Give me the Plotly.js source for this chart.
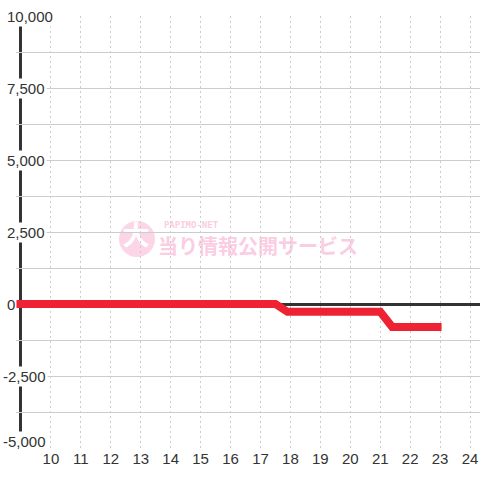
<!DOCTYPE html>
<html>
<head>
<meta charset="utf-8">
<script src="https://cdn.plot.ly/plotly-3.0.1.min.js"></script>
<style>
html,body{margin:0;padding:0;background:#fff;}
#chart{width:480px;height:480px;}
</style>
</head>
<body>
<div id="chart"></div>
<script>
// data
var timeX = [8.8, 17.5, 17.9, 21.0, 21.4, 23.05];
var balanceY = [0, 0, -270, -270, -800, -800];
var xTickVals = [10, 11, 12, 13, 14, 15, 16, 17, 18, 19, 20, 21, 22, 23, 24];
var yTickVals = [10000, 7500, 5000, 2500, 0, -2500, -5000];
var yTickLabels = ["10,000", "7,500", "5,000", "2,500", "0", "-2,500", "-5,000"];
var watermarkSmall = "PAPIMO-NET";
var watermarkBig = "当り情報公開サービス";
var watermarkIcon = "大";

var W = 480, H = 480;
var mL = 16, mR = 0, mT = 16, mB = 32;
var pw = W - mL - mR, ph = H - mT - mB;
function px(p){ return (p - mL) / pw; }
function py(p){ return (H - mB - p) / ph; }

var trace = {
  x: timeX, y: balanceY, type: 'scatter', mode: 'lines',
  line: {color: '#EE2233', width: 8, shape: 'linear'},
  hoverinfo: 'skip'
};

var labelFont = {family: 'Liberation Sans, Arial, sans-serif', size: 15, color: '#333333'};
var annotations = yTickVals.map(function(v, i){
  var a = {
    xref: 'paper', yref: 'y', x: px(v < 0 ? 1 : 5), y: v,
    xanchor: 'left', yanchor: 'middle', showarrow: false,
    text: yTickLabels[i], bgcolor: '#ffffff', borderpad: 1,
    font: labelFont
  };
  if (i === yTickVals.length - 1) { a.yref = 'paper'; a.y = py(441); }
  return a;
});

var pink = '#fbcde2';
function textShape(cx, cy, w, h, txt, font){
  return {type: 'rect', xref: 'paper', yref: 'paper',
    x0: px(cx - w/2), x1: px(cx + w/2), y0: py(cy + h/2), y1: py(cy - h/2),
    line: {width: 0}, fillcolor: 'rgba(0,0,0,0)', layer: 'below',
    label: {text: txt, font: font, textposition: 'middle center'}};
}

var shapes = [
  {type: 'line', xref: 'paper', yref: 'paper', x0: px(20.5), x1: px(20.5), y0: 0, y1: 1,
   line: {color: '#333333', width: 3}, layer: 'below'},
  {type: 'circle', xref: 'paper', yref: 'paper',
   x0: px(119), x1: px(155), y0: py(257), y1: py(221),
   fillcolor: '#fcd6e7', line: {width: 0}, layer: 'below'},
  textShape(136, 237, 34, 34, '<b>' + watermarkIcon + '</b>',
    {family: 'Noto Sans CJK JP, sans-serif', size: 27, color: '#ffffff'}),
  textShape(191, 224, 60, 10, '<b>' + watermarkSmall + '</b>',
    {family: 'DejaVu Sans Mono, monospace', size: 9, color: pink}),
  textShape(258, 248, 204, 22, '<b>' + watermarkBig + '</b>',
    {family: 'Noto Sans CJK JP, sans-serif', size: 20, color: pink})
];

var layout = {
  width: W, height: H,
  margin: {l: mL, r: mR, t: mT, b: mB, pad: 0},
  paper_bgcolor: '#ffffff', plot_bgcolor: '#ffffff',
  showlegend: false,
  xaxis: {
    range: [10 - 35/30, 10 + 430/30],
    tickvals: xTickVals, ticktext: xTickVals.map(String),
    showgrid: true, gridcolor: '#cccccc', gridwidth: 1, griddash: '2px,3px',
    zeroline: false, showline: false, ticks: '',
    tickfont: labelFont,
    fixedrange: true
  },
  yaxis: {
    range: [-5000, 10000], dtick: 1250, tick0: 0,
    showgrid: true, gridcolor: '#cccccc', gridwidth: 1,
    zeroline: true, zerolinecolor: '#333333', zerolinewidth: 3,
    showticklabels: false, ticks: '', showline: false,
    fixedrange: true
  },
  shapes: shapes,
  annotations: annotations
};

Plotly.newPlot('chart', [trace], layout, {displayModeBar: false, staticPlot: true});
</script>
</body>
</html>
